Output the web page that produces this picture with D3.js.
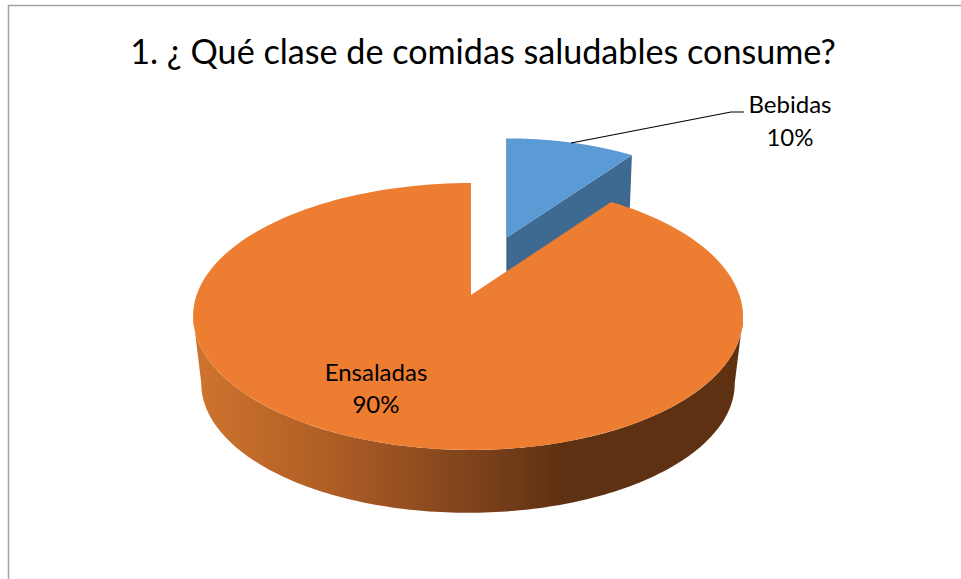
<!DOCTYPE html>
<html><head><meta charset="utf-8">
<style>html,body{margin:0;padding:0;background:#fff;overflow:hidden}svg{display:block}text{font-family:Lato,"Open Sans",sans-serif;fill:#000}</style>
<script src="https://cdn.jsdelivr.net/npm/d3@7"></script></head>
<body><svg id="c" width="961" height="579"></svg>
<script>
const titleText = "1. ¿ Qué clase de comidas saludables consume?";
const categories = ["Bebidas", "Ensaladas"];
const values = [10, 90];
const colors = ["#5b9bd5", "#ed7d31"];

const svg = d3.select("#c");
// chart frame (top and left edges visible)
svg.append("path").attr("d", "M8.5 579V5.5H961").attr("fill", "none").attr("stroke", "#a3a3a3").attr("stroke-width", 1.5);

const pie = d3.pie().sort(null).startAngle(0).endAngle(2 * Math.PI).value(d => d);
const arcs = pie(values);
const total = d3.sum(values);

// perspective projection of the tilted disc
const P = 0.161, A = 271.4, B = 130;
function project(a, r, o) {
  const x = r * Math.sin(a), y = r * Math.cos(a), w = 1 + P * y;
  return [o.x + (o.k || 0) * x * x + o.s * A * x / w, o.y - o.s * B * y / w];
}
const line = d3.line();
function sweep(a0, a1, o) {
  const n = 160;
  return d3.range(n + 1).map(i => project(a0 + (a1 - a0) * i / n, 1, o));
}
const offsets = [
  { top: { x: 507, y: 237.5, s: 0.885 }, bot: { x: 507, y: 290, s: 0.87 } },
  { top: { x: 471, y: 295, s: 1, k: -3 }, bot: { x: 468, y: 362.5, s: 0.97 } }
];

const defs = svg.append("defs");
const grad = defs.append("linearGradient").attr("id", "wall").attr("gradientUnits", "userSpaceOnUse")
  .attr("x1", 195).attr("x2", 745).attr("y1", 0).attr("y2", 0);
[[0, "#cf742e"], [0.25, "#ae5d25"], [0.5, "#7f431c"], [0.67, "#5e3112"], [1, "#5e3112"]]
  .forEach(s => grad.append("stop").attr("offset", s[0]).attr("stop-color", s[1]));

// Blue slice
{
  const d = arcs[0], o = offsets[0];
  const side = [project(0, 0, o.top), project(d.endAngle, 1, o.top), project(d.endAngle, 1, o.bot), project(0, 0, o.bot)];
  svg.append("path").attr("d", line(side) + "Z").attr("fill", "#3e6990");
  svg.append("path").attr("d", line([project(0, 1, o.top), project(0, 0, o.top), project(0, 0, o.bot)]))
    .attr("fill", "none").attr("stroke", "#35597c").attr("stroke-width", 1.2);
  const face = [project(0, 0, o.top), ...sweep(d.startAngle, d.endAngle, o.top)];
  svg.append("path").attr("d", line(face) + "Z").attr("fill", colors[0]);
}

// Orange slice
{
  const d = arcs[1], o = offsets[1];
  const aR = Math.PI - Math.asin(Math.sqrt(1 - P * P)), aL = 2 * Math.PI - aR;
  const wall = [...sweep(aR, aL, o.bot), ...sweep(aL, aR, o.top)];
  svg.append("path").attr("d", line(wall) + "Z").attr("fill", "url(#wall)");
  const face = [project(0, 0, o.top), ...sweep(d.startAngle, d.endAngle, o.top)];
  svg.append("path").attr("d", line(face) + "Z").attr("fill", colors[1]);
}

// Title
svg.append("text").attr("x", 483).attr("y", 64).attr("text-anchor", "middle")
  .attr("font-size", 34.15).text(titleText);

// Labels
const fmt = v => d3.format(".0%")(v / total);
const labelPos = [{ x: 790, y1: 113, y2: 146 }, { x: 376, y1: 381, y2: 413 }];
categories.forEach((c, i) => {
  const t = svg.append("text").attr("text-anchor", "middle").attr("font-size", 24);
  t.append("tspan").attr("x", labelPos[i].x).attr("y", labelPos[i].y1).text(c);
  t.append("tspan").attr("x", labelPos[i].x).attr("y", labelPos[i].y2).text(fmt(values[i]));
});

// Leader
svg.append("path").attr("d", "M571 143L731 112H744").attr("fill", "none").attr("stroke", "#000").attr("stroke-width", 1.1);
</script></body></html>
